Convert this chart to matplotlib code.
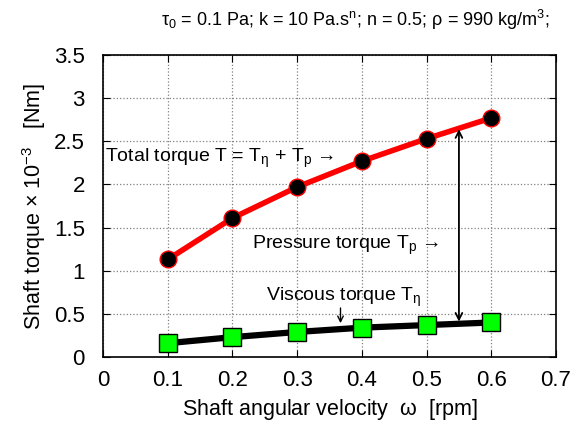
import matplotlib
matplotlib.use('Agg')
import matplotlib.pyplot as plt
import numpy as np

plt.rcParams['font.family'] = ['Liberation Sans', 'DejaVu Sans']
plt.rcParams['mathtext.fontset'] = 'custom'
plt.rcParams['mathtext.rm'] = 'Liberation Sans'
plt.rcParams['mathtext.it'] = 'Liberation Sans'

omega = [0.1, 0.2, 0.3, 0.4, 0.5, 0.6]
total_torque = [1.13, 1.61, 1.97, 2.27, 2.53, 2.77]
viscous_torque = [0.16, 0.23, 0.29, 0.34, 0.37, 0.40]

fig = plt.figure(figsize=(5.73, 4.25), dpi=100)
ax = fig.add_axes([103 / 573, 68 / 425, 453 / 573, 302 / 425])

ax.plot(omega, total_torque, color='red', linewidth=4, zorder=3)
ax.plot(omega, total_torque, linestyle='None', marker='o', markersize=12,
        markerfacecolor='black', markeredgecolor='red', markeredgewidth=1, zorder=4)
ax.plot(omega, viscous_torque, color='black', linewidth=4.5, zorder=3)
ax.plot(omega, viscous_torque, linestyle='None', marker='s', markersize=13,
        markerfacecolor='#00ff00', markeredgecolor='black', markeredgewidth=1, zorder=4)

ax.set_xlim(0, 0.7)
ax.set_ylim(0, 3.5)
ax.set_xticks(np.arange(0, 0.71, 0.1))
ax.set_xticklabels(['0', '0.1', '0.2', '0.3', '0.4', '0.5', '0.6', '0.7'])
ax.set_yticks(np.arange(0, 3.51, 0.5))
ax.set_yticklabels(['0', '0.5', '1', '1.5', '2', '2.5', '3', '3.5'])
ax.tick_params(direction='in', labelsize=16, length=5, top=True, right=True)
ax.tick_params(axis='x', pad=9)
ax.tick_params(axis='y', pad=13)
ax.grid(True, linestyle=':', color='gray', linewidth=0.9)
for s in ax.spines.values():
    s.set_linewidth(1.2)

ax.set_xlabel(r'Shaft angular velocity  $\omega$  [rpm]', fontsize=15.5, labelpad=5)
ax.set_ylabel(r'Shaft torque $\times$ 10$^{-3}$   [Nm]', fontsize=15.5, labelpad=4)
fig.text(355 / 573, 1 - 20 / 425,
         r'$\tau_0$ = 0.1 Pa; k = 10 Pa.s$^{\rm n}$; n = 0.5; $\rho$ = 990 kg/m$^3$;',
         ha='center', va='center', fontsize=13)

# double arrow between curves (pressure torque)
ax.annotate('', xy=(0.55, 0.41), xytext=(0.55, 2.64),
            arrowprops=dict(arrowstyle='<->', color='black', lw=1.3,
                            mutation_scale=12, shrinkA=0, shrinkB=0))
ax.text(0.003, 2.3, r'Total torque T = T$_\eta$ + T$_{\rm p}$ →',
        fontsize=14, va='center', ha='left')
ax.text(0.231, 1.29, r'Pressure torque T$_{\rm p}$ →',
        fontsize=14, va='center', ha='left')
ax.text(0.252, 0.69, r'Viscous torque T$_\eta$', fontsize=14, va='center', ha='left')
ax.annotate('', xy=(0.367, 0.36), xytext=(0.367, 0.6),
            arrowprops=dict(arrowstyle='->', color='black', lw=1))

fig.savefig('out.png', dpi=100)
